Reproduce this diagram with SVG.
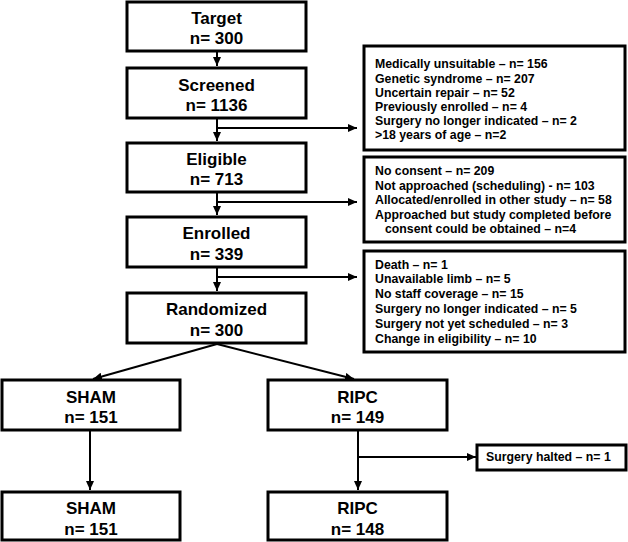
<svg xmlns="http://www.w3.org/2000/svg" width="628" height="542" viewBox="0 0 628 542">
<style>
.box{fill:#fff;stroke:#000;stroke-width:3}
.t{font-family:"Liberation Sans",Arial,sans-serif;font-weight:bold;font-size:17px;text-anchor:middle;fill:#000}
.s{font-family:"Liberation Sans",Arial,sans-serif;font-weight:bold;font-size:12.3px;fill:#000}
.c{fill:none;stroke:#000;stroke-width:2}
</style>
<defs>
<marker id="ah" markerUnits="userSpaceOnUse" markerWidth="10" markerHeight="8" refX="9" refY="4" orient="auto">
<path d="M0,0 L9,4 L0,8 Z" fill="#000"/>
</marker>
</defs>
<g id="connectors">
<path class="c" d="M217,51 V66" marker-end="url(#ah)"/>
<path class="c" d="M217,118 V141" marker-end="url(#ah)"/>
<path class="c" d="M217,128 H357" marker-end="url(#ah)"/>
<path class="c" d="M217,192 V215" marker-end="url(#ah)"/>
<path class="c" d="M217,202 H357" marker-end="url(#ah)"/>
<path class="c" d="M217,267 V291" marker-end="url(#ah)"/>
<path class="c" d="M217,277 H357" marker-end="url(#ah)"/>
<path class="c" d="M217,344 L93,379" marker-end="url(#ah)"/>
<path class="c" d="M217,344 L354,379" marker-end="url(#ah)"/>
<path class="c" d="M90,431 V490" marker-end="url(#ah)"/>
<path class="c" d="M358,431 V490" marker-end="url(#ah)"/>
<path class="c" d="M358,457 H476" marker-end="url(#ah)"/>
</g>
<g id="target"><rect class="box" x="127" y="2" width="179" height="49"/><text class="t" x="216.5" y="24">Target</text><text class="t" x="216.5" y="44">n= 300</text></g>
<g id="screened"><rect class="box" x="127" y="68" width="179" height="50"/><text class="t" x="216.5" y="91">Screened</text><text class="t" x="216.5" y="111">n= 1136</text></g>
<g id="eligible"><rect class="box" x="127" y="143" width="179" height="49"/><text class="t" x="216.5" y="165">Eligible</text><text class="t" x="216.5" y="185">n= 713</text></g>
<g id="enrolled"><rect class="box" x="127" y="217" width="179" height="50"/><text class="t" x="216.5" y="239">Enrolled</text><text class="t" x="216.5" y="260">n= 339</text></g>
<g id="randomized"><rect class="box" x="127" y="293" width="179" height="50"/><text class="t" x="216.5" y="315">Randomized</text><text class="t" x="216.5" y="336">n= 300</text></g>
<g id="excl1"><rect class="box" x="364" y="46" width="261" height="104"/>
<text class="s" x="375" y="68.3">Medically unsuitable – n= 156</text>
<text class="s" x="375" y="82.5">Genetic syndrome – n= 207</text>
<text class="s" x="375" y="96.7">Uncertain repair – n= 52</text>
<text class="s" x="375" y="110.9">Previously enrolled – n= 4</text>
<text class="s" x="375" y="125.1">Surgery no longer indicated – n= 2</text>
<text class="s" x="375" y="139.3">&gt;18 years of age – n=2</text>
</g>
<g id="excl2"><rect class="box" x="364" y="157" width="261" height="85"/>
<text class="s" x="375" y="175">No consent – n= 209</text>
<text class="s" x="375" y="189.6">Not approached (scheduling) - n= 103</text>
<text class="s" x="375" y="204.2">Allocated/enrolled in other study – n= 58</text>
<text class="s" x="375" y="218.8">Approached but study completed before</text>
<text class="s" x="385" y="233.4">consent could be obtained – n=4</text>
</g>
<g id="excl3"><rect class="box" x="364" y="251" width="261" height="101"/>
<text class="s" x="375" y="268.5">Death – n= 1</text>
<text class="s" x="375" y="283.3">Unavailable limb – n= 5</text>
<text class="s" x="375" y="298.1">No staff coverage – n= 15</text>
<text class="s" x="375" y="312.9">Surgery no longer indicated – n= 5</text>
<text class="s" x="375" y="327.7">Surgery not yet scheduled – n= 3</text>
<text class="s" x="375" y="342.5">Change in eligibility – n= 10</text>
</g>
<g id="sham1"><rect class="box" x="2" y="380" width="178" height="50"/><text class="t" x="91" y="403">SHAM</text><text class="t" x="91" y="423">n= 151</text></g>
<g id="ripc1"><rect class="box" x="268" y="380" width="179" height="50"/><text class="t" x="357.5" y="403">RIPC</text><text class="t" x="357.5" y="423">n= 149</text></g>
<g id="halted"><rect class="box" x="477" y="445" width="149" height="25"/><text class="s" x="486" y="461.3">Surgery halted – n= 1</text></g>
<g id="sham2"><rect class="box" x="2" y="492" width="178" height="48"/><text class="t" x="91" y="514">SHAM</text><text class="t" x="91" y="535">n= 151</text></g>
<g id="ripc2"><rect class="box" x="268" y="492" width="179" height="48"/><text class="t" x="357.5" y="514">RIPC</text><text class="t" x="357.5" y="535">n= 148</text></g>
</svg>
